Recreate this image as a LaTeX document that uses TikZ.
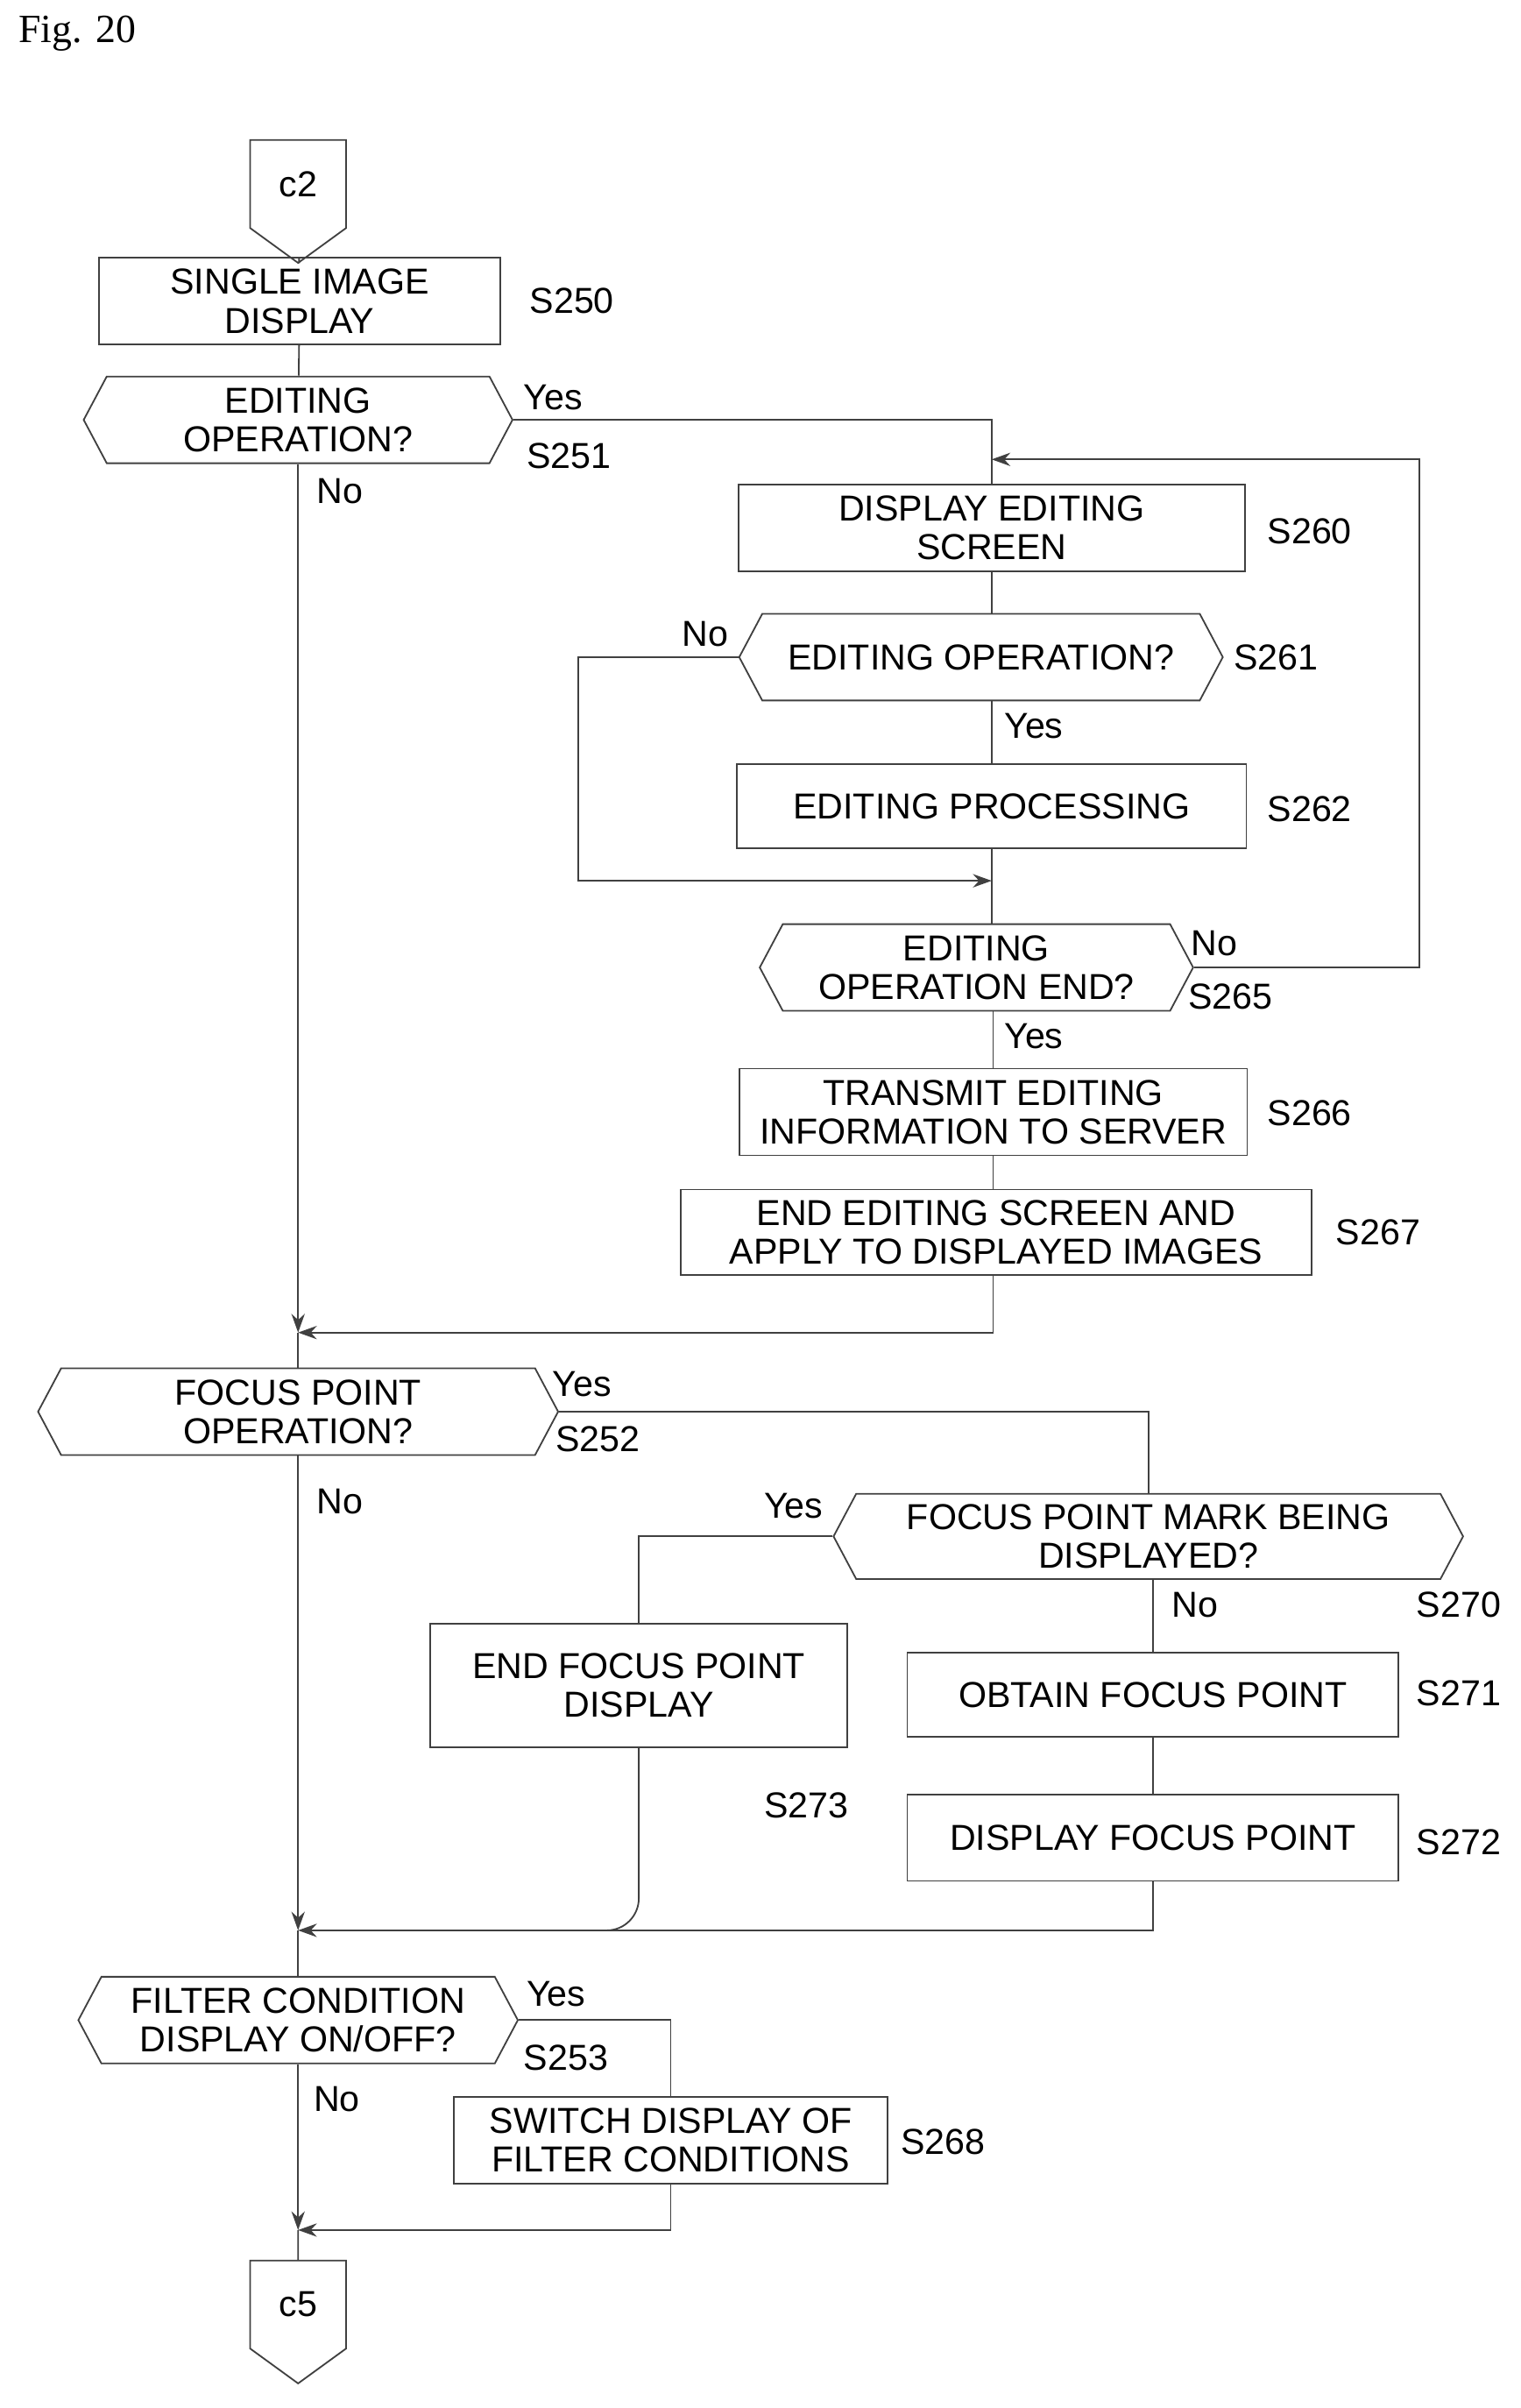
\documentclass[tikz,border=0pt]{standalone}
\usepackage{fontspec}
\setmainfont{Liberation Serif}
\newfontfamily\flowfont{Liberation Sans}
\usetikzlibrary{shapes.symbols,arrows.meta}
\tikzset{
  every node/.style={font=\flowfont\fontsize{13.5}{14.5}\selectfont},
  proc/.style={draw=black!75,line width=0.6pt,align=center,inner sep=0pt},
  test/.style={draw=black!75,line width=0.6pt,align=center,inner sep=0pt,shape=signal,
    signal to=west and east,signal pointer angle=124},
  conn/.style={draw=black!75,line width=0.6pt,shape=signal,signal to=south,
    signal pointer angle=108,minimum width=1.26cm,minimum height=1.34cm,inner sep=0pt},
  tag/.style={anchor=west,inner sep=0pt},
  flow/.style={line width=0.6pt,draw=black!75},
  arr/.style={flow,-{Stealth[length=7pt,width=5pt]}}
}
\begin{document}
\begin{tikzpicture}[x=0.02cm,y=-0.02cm]
\useasboundingbox (0,0) rectangle (1000,1583);
\node[anchor=west,inner sep=0pt,font=\fontsize{15}{17}\selectfont] (fig) at (12,22) {Fig. 20};

%%% upper part
\node[conn] (c2) at (196,121) {c2};
\node[proc,minimum width=5.28cm,minimum height=1.14cm] (s250) at (197,198) {SINGLE IMAGE\\DISPLAY};
\node[test,minimum width=5.64cm,minimum height=1.14cm] (s251) at (196,276) {EDITING\\OPERATION?};
\node[proc,minimum width=6.66cm,minimum height=1.14cm] (s260) at (652,347) {DISPLAY EDITING\\SCREEN};
\node[test,minimum width=6.36cm,minimum height=1.14cm] (s261) at (645,432) {EDITING OPERATION?};
\node[proc,minimum width=6.7cm,minimum height=1.1cm] (s262) at (652,530) {EDITING PROCESSING};
\node[test,minimum width=5.7cm,minimum height=1.14cm] (s265) at (642,636) {EDITING\\OPERATION END?};
\node[proc,minimum width=6.68cm,minimum height=1.14cm] (s266) at (653,731) {TRANSMIT EDITING\\INFORMATION TO SERVER};
\node[proc,minimum width=8.3cm,minimum height=1.12cm] (s267) at (655,810) {END EDITING SCREEN AND\\APPLY TO DISPLAYED IMAGES};

%%% focus point part
\node[test,minimum width=6.84cm,minimum height=1.14cm] (s252) at (196,928) {FOCUS POINT\\OPERATION?};
\node[test,minimum width=8.28cm,minimum height=1.12cm] (s270) at (755,1010) {FOCUS POINT MARK BEING\\DISPLAYED?};
\node[proc,minimum width=5.48cm,minimum height=1.62cm] (s273) at (420,1108) {END FOCUS POINT\\DISPLAY};
\node[proc,minimum width=6.46cm,minimum height=1.1cm] (s271) at (758,1114) {OBTAIN FOCUS POINT};
\node[proc,minimum width=6.46cm,minimum height=1.14cm] (s272) at (758,1208) {DISPLAY FOCUS POINT};

%%% filter part
\node[test,minimum width=5.78cm,minimum height=1.14cm] (s253) at (196,1328) {FILTER CONDITION\\DISPLAY ON/OFF?};
\node[proc,minimum width=5.7cm,minimum height=1.14cm] (s268) at (441,1407) {SWITCH DISPLAY OF\\FILTER CONDITIONS};
\node[conn] (c5) at (196,1515) {c5};

%%% step labels
\node[tag] (l250) at (348,198) {S250};
\node[tag] (l251) at (346,300) {S251};
\node[tag] (l260) at (833,349) {S260};
\node[tag] (l261) at (811,432) {S261};
\node[tag] (l262) at (833,532) {S262};
\node[tag] (l265) at (781,655) {S265};
\node[tag] (l266) at (833,732) {S266};
\node[tag] (l267) at (878,810) {S267};
\node[tag] (l252) at (365,946) {S252};
\node[tag] (l270) at (931,1055) {S270};
\node[tag] (l271) at (931,1113) {S271};
\node[tag] (l273) at (502,1187) {S273};
\node[tag] (l272) at (931,1211) {S272};
\node[tag] (l253) at (344,1353) {S253};
\node[tag] (l268) at (592,1408) {S268};

%%% yes / no
\node[tag] (y251) at (344,261) {Yes};
\node[tag] (n251) at (208,323) {No};
\node[tag] (n261) at (448,417) {No};
\node[tag] (y261) at (660,477) {Yes};
\node[tag] (n265) at (783,620) {No};
\node[tag] (y265) at (660,681) {Yes};
\node[tag] (y252) at (363,910) {Yes};
\node[tag] (n252) at (208,987) {No};
\node[tag] (y270) at (502,990) {Yes};
\node[tag] (n270) at (770,1055) {No};
\node[tag] (y253) at (346,1311) {Yes};
\node[tag] (n253) at (206,1380) {No};

%%% junctions
\coordinate (j1) at (652,302);
\coordinate (j2) at (652,579);
\coordinate (j3) at (196,876);
\coordinate (j4) at (196,1269);
\coordinate (j5) at (196,1466);

%%% connectors
\draw[flow] (c2) -- (s250);
\draw[flow] (s250) -- (s251);
\draw[arr] (s251.south) -- (j3);
\draw[flow] (s251.east) -| (s260.north);
\draw[arr] (s265.east) -- ++(148,0) |- (j1);
\draw[flow] (s260) -- (s261.north -| s260);
\draw[flow] (s261.south -| s262) -- (s262);
\draw[flow] (s262) -- (s265.north -| s262);
\draw[arr] (s261.west) -| (380,579) -- (j2);
\draw[flow] (s265.south -| s266) -- (s266);
\draw[flow] (s266) -- (s267.north -| s266);
\draw[arr] (s267.south -| s266) |- (j3);
\draw[flow] (j3) -- (s252.north);
\draw[arr] (s252.south) -- (j4);
\draw[flow] (s252.east) -| (s270.north);
\draw[flow] (s270.west) -| (s273.north);
\draw[flow] (s270.south -| s271) -- (s271);
\draw[flow] (s271) -- (s272);
\draw[arr] (s272.south) |- (j4);
\draw[flow,rounded corners=12pt] (s273.south) -- (420,1269) -- (396,1269);
\draw[flow] (j4) -- (s253.north);
\draw[arr] (s253.south) -- (j5);
\draw[flow] (s253.east) -| (s268.north);
\draw[arr] (s268.south) |- (j5);
\draw[flow] (j5) -- (c5);
\end{tikzpicture}
\end{document}
